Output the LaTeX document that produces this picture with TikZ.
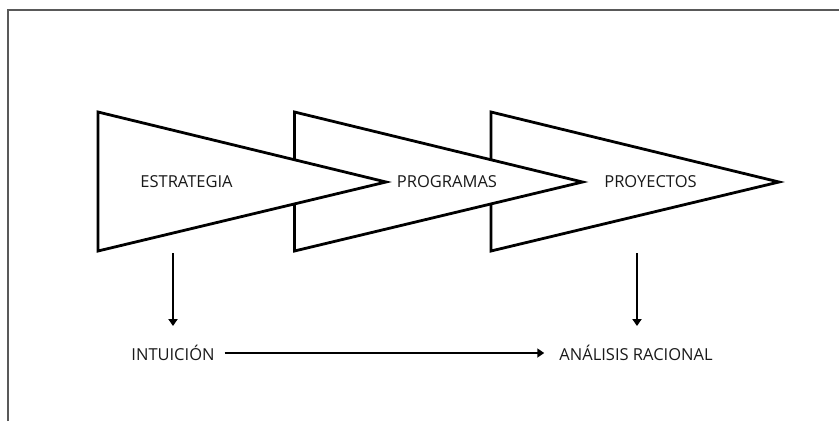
\documentclass[tikz,border=0pt]{standalone}
\usepackage{fontspec}
\setmainfont{Open Sans}
\usetikzlibrary{arrows.meta}

\tikzset{
  etapa/.style={draw, line width=2.8pt, fill=white, line join=miter},
  flecha/.style={-{Triangle[length=7pt,width=9pt]}, line width=2.6pt},
  rotulo/.style={font=\fontsize{16.5}{20}\selectfont, text=black!90, inner sep=2pt}
}

\begin{document}
\begin{tikzpicture}[x=1pt, y=-1pt]
    \useasboundingbox (0,0) rectangle (839,421);
    %marco
    \draw[black!65, line width=1.2pt] (8,421) -- (8,10) -- (839,10);
    %etapas, de atras hacia delante
    \foreach \x in {491, 294.5, 98}
      \draw[etapa] (\x,112) -- (\x+288,182) -- (\x,251) -- cycle;
    \node[rotulo] at (186.5,182) (E){ESTRATEGIA};
    \node[rotulo] at (447,182) (P){PROGRAMAS};
    \node[rotulo] at (650.5,182) (Y){PROYECTOS};
    \node[rotulo] at (173,353) (I){INTUICIÓN};
    \node[rotulo] at (636,353) (A){ANÁLISIS RACIONAL};
    \coordinate (e1) at (173,253);
    \coordinate (y1) at (637,253);
    \draw[flecha] (e1) -- ([yshift=17pt]I.north -| e1);
    \draw[flecha] (y1) -- ([yshift=17pt]A.north -| y1);
    \draw[flecha] ([xshift=8pt]I.east) -- ([xshift=-13pt]A.west);
  \end{tikzpicture}
\end{document}
